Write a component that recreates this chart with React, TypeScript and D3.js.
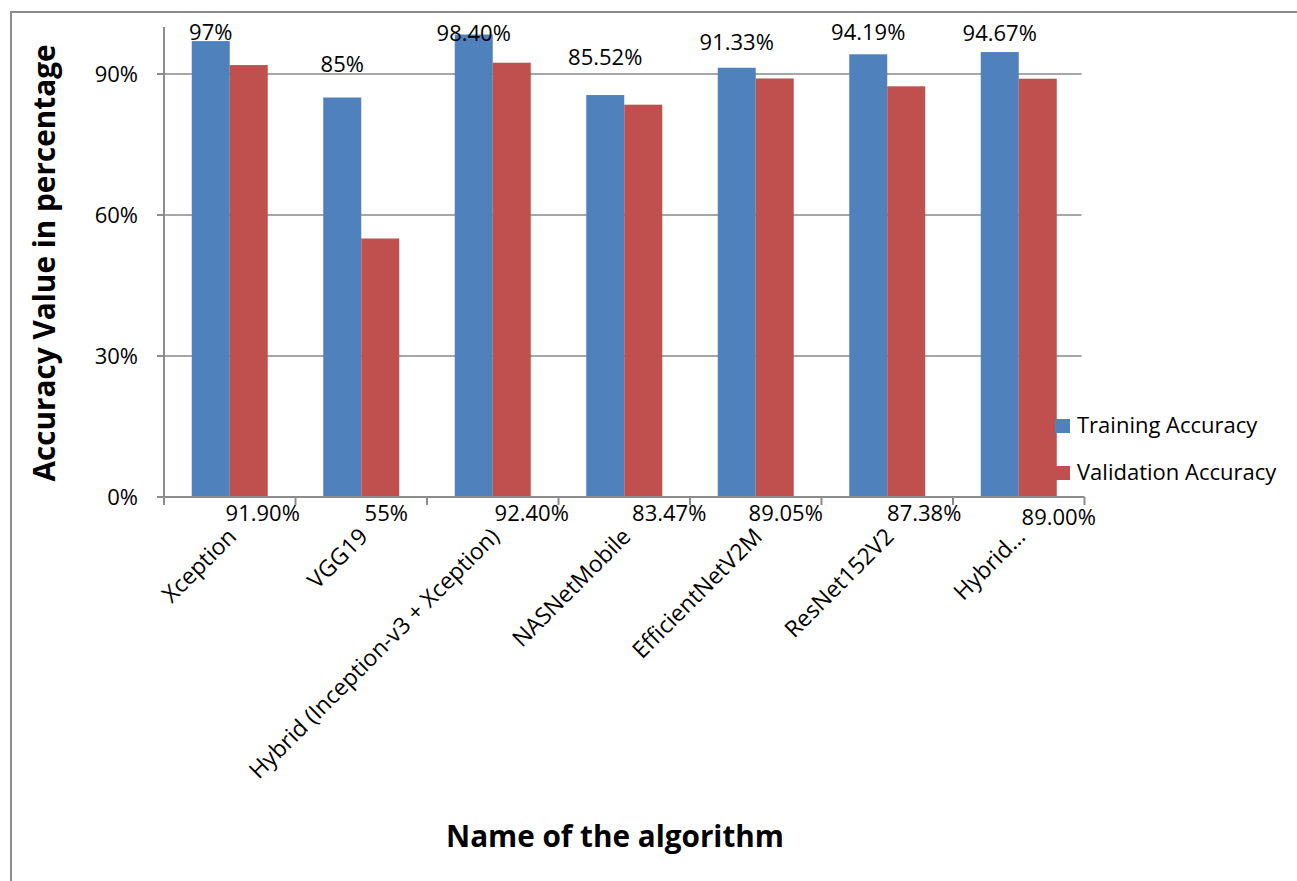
import React from "react";
import * as d3 from "d3";

const categories = [
  "Xception",
  "VGG19",
  "Hybrid (Inception-v3 + Xception)",
  "NASNetMobile",
  "EfficientNetV2M",
  "ResNet152V2",
  "Hybrid…",
];
const trainingAccuracy = [97, 85, 98.4, 85.52, 91.33, 94.19, 94.67];
const validationAccuracy = [91.9, 55, 92.4, 83.47, 89.05, 87.38, 89.0];
const trainingLabels = ["97%", "85%", "98.40%", "85.52%", "91.33%", "94.19%", "94.67%"];
const validationLabels = ["91.90%", "55%", "92.40%", "83.47%", "89.05%", "87.38%", "89.00%"];
const seriesNames = ["Training Accuracy", "Validation Accuracy"];
const yTicks = [0, 30, 60, 90];

// layout nudges for data labels (pixels), matching the manual placement in the original
const trainLabelDy = [-1, -26, 6, -30, -18, -14, -11];
const valLabelDx = [14, 6, 20, 26, 11, 18, 21];
const valLabelDy = [0, 0, 0, 0, 0, 0, 4];

const COLORS = ["#4F81BD", "#C0504D"];
const FONT = "'Open Sans', 'Noto Sans', sans-serif";
const AXIS = "#8C8C8C";

export default function App() {
  const W = 1297;
  const H = 881;
  const plotL = 164;
  const plotR = 1084.5;
  const y = d3.scaleLinear().domain([0, 100]).range([497, 27]);
  const x = d3.scaleBand<string>().domain(categories).range([plotL, plotR]).paddingInner(0).paddingOuter(0);
  const bw = x.bandwidth();
  const groupW = bw * (76 / 131.5);
  const sx = d3.scaleBand<number>().domain([0, 1]).range([0, groupW]);
  const barW = sx.bandwidth();
  const series = [trainingAccuracy, validationAccuracy];
  const y0 = y(0);

  return (
    <svg
      width={W}
      height={H}
      style={{ position: "absolute", left: 0, top: 0, background: "#fff" }}
      fontFamily={FONT}
    >
      <rect x={0} y={0} width={W} height={H} fill="#fff" />
      {/* chart border */}
      <rect x={11} y={12} width={W + 20} height={H + 20} fill="none" stroke={AXIS} strokeWidth={2} />

      {/* gridlines */}
      {yTicks.filter((t) => t > 0).map((t) => (
        <line key={"g" + t} x1={plotL} x2={plotR - 3} y1={y(t)} y2={y(t)} stroke="#A6A6A6" strokeWidth={2} />
      ))}

      {/* bars */}
      {categories.map((c, i) => {
        const gx = (x(c) as number) + bw / 2 - groupW / 2;
        return series.map((s, k) => (
          <rect
            key={c + k}
            x={gx + (sx(k) as number)}
            y={y(s[i])}
            width={barW}
            height={y0 - y(s[i])}
            fill={COLORS[k]}
          />
        ));
      })}

      {/* y axis */}
      <line x1={plotL} x2={plotL} y1={y(100)} y2={y0} stroke={AXIS} strokeWidth={2} />
      {yTicks.map((t) => (
        <g key={"t" + t}>
          <line x1={plotL - 7} x2={plotL} y1={y(t)} y2={y(t)} stroke={AXIS} strokeWidth={2} />
          <text x={138} y={y(t)} dy="0.36em" textAnchor="end" fontSize={22} fill="#000">
            {t + "%"}
          </text>
        </g>
      ))}

      {/* x axis */}
      <line x1={plotL - 7} x2={plotR} y1={y0} y2={y0} stroke={AXIS} strokeWidth={2} />
      {d3.range(categories.length + 1).map((i) => {
        const xx = plotL + i * bw;
        return <line key={"xt" + i} x1={xx} x2={xx} y1={y0} y2={y0 + 8} stroke={AXIS} strokeWidth={2} />;
      })}

      {/* training labels */}
      {categories.map((c, i) => {
        const cx = (x(c) as number) + bw / 2 - groupW / 2 + (sx(0) as number) + barW / 2;
        return (
          <text key={"tl" + i} x={cx} y={y(trainingAccuracy[i]) + trainLabelDy[i]} textAnchor="middle" fontSize={22} fill="#000">
            {trainingLabels[i]}
          </text>
        );
      })}

      {/* validation labels */}
      {categories.map((c, i) => {
        const cx = (x(c) as number) + bw / 2 - groupW / 2 + (sx(1) as number) + barW / 2;
        return (
          <text key={"vl" + i} x={cx + valLabelDx[i]} y={521 + valLabelDy[i]} textAnchor="middle" fontSize={22} fill="#000">
            {validationLabels[i]}
          </text>
        );
      })}

      {/* category labels */}
      {categories.map((c, i) => {
        const ax = (x(c) as number) + bw / 2 + 8;
        const ay = 538;
        return (
          <text
            key={"cl" + i}
            x={ax}
            y={ay}
            textAnchor="end"
            fontSize={23}
            fill="#000"
            transform={`rotate(-45 ${ax} ${ay})`}
          >
            {c}
          </text>
        );
      })}

      {/* legend */}
      {seriesNames.map((n, k) => (
        <g key={"lg" + k}>
          <rect x={1055} y={419 + k * 47} width={15} height={14} fill={COLORS[k]} />
          <text x={1077} y={433 + k * 47} fontSize={22} fill="#000">
            {n}
          </text>
        </g>
      ))}

      {/* axis titles */}
      <text
        x={615}
        y={847}
        textAnchor="middle"
        fontSize={31}
        fontWeight="bold"
        fill="#000"
        textLength={338}
        lengthAdjust="spacingAndGlyphs"
      >
        Name of the algorithm
      </text>
      <text
        x={0}
        y={0}
        textAnchor="middle"
        fontSize={31}
        fontWeight="bold"
        fill="#000"
        textLength={437}
        lengthAdjust="spacingAndGlyphs"
        transform={`translate(55 263) rotate(-90)`}
      >
        Accuracy Value in percentage
      </text>
    </svg>
  );
}
